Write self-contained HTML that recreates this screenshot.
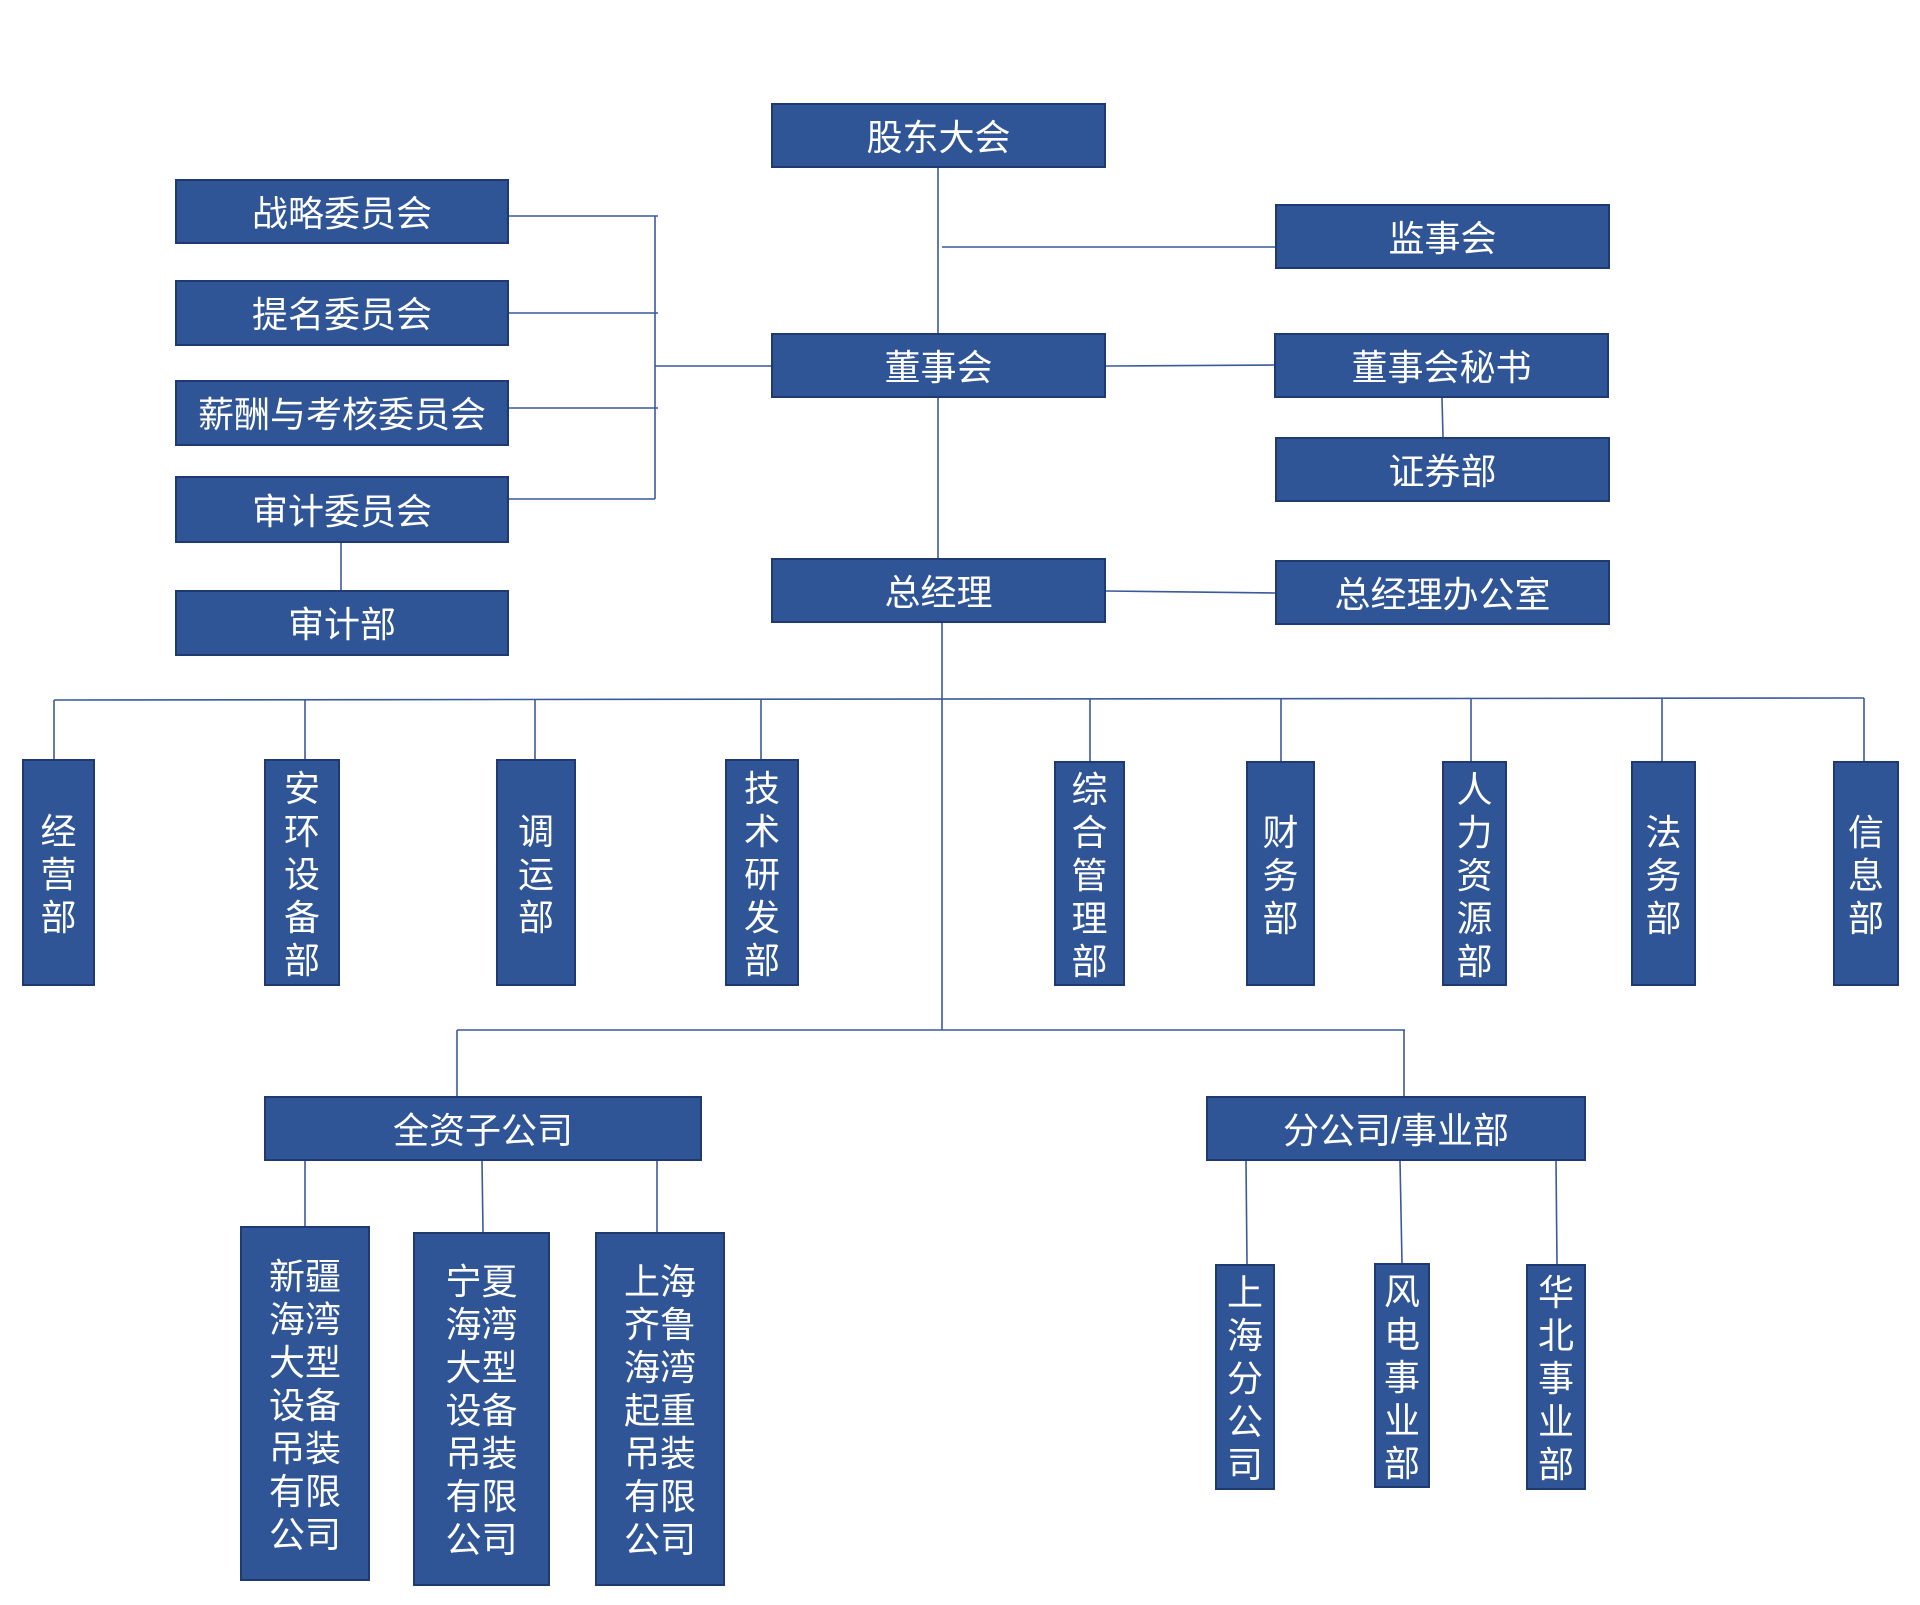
<!DOCTYPE html>
<html><head><meta charset="utf-8"><style>
html,body{margin:0;padding:0;background:#fff;}
body{width:1920px;height:1605px;position:relative;overflow:hidden;font-family:"Liberation Sans","Noto Sans CJK SC",sans-serif;}
.b{position:absolute;box-sizing:border-box;background:#2F5597;border:2px solid #1F3A70;color:#fff;font-size:36px;display:flex;align-items:center;justify-content:center;text-align:center;line-height:43px;white-space:nowrap;padding-top:3px;}
svg{position:absolute;left:0;top:0;}
</style></head><body>
<svg width="1920" height="1605" viewBox="0 0 1920 1605">
<g stroke="#3A5A9C" stroke-width="1.6" fill="none">
<line x1="938" y1="168" x2="938" y2="333"/>
<line x1="938" y1="398" x2="938" y2="558"/>
<line x1="942" y1="247" x2="1275" y2="247"/>
<line x1="509" y1="216" x2="658" y2="216"/>
<line x1="509" y1="313" x2="658" y2="313"/>
<line x1="509" y1="408" x2="658" y2="408"/>
<line x1="509" y1="499" x2="655" y2="499"/>
<line x1="655" y1="216" x2="655" y2="499"/>
<line x1="655" y1="366" x2="771" y2="366"/>
<line x1="341" y1="543" x2="341" y2="590"/>
<line x1="1106" y1="366" x2="1274" y2="365"/>
<line x1="1442" y1="398" x2="1443" y2="437"/>
<line x1="1106" y1="591" x2="1275" y2="593"/>
<line x1="942" y1="623" x2="942" y2="1030"/>
<line x1="54" y1="700" x2="1864" y2="698"/>
<line x1="54" y1="700" x2="54" y2="759"/>
<line x1="305" y1="700" x2="305" y2="759"/>
<line x1="535" y1="700" x2="535" y2="759"/>
<line x1="761" y1="700" x2="761" y2="759"/>
<line x1="1090" y1="699" x2="1090" y2="761"/>
<line x1="1281" y1="699" x2="1281" y2="761"/>
<line x1="1471" y1="699" x2="1471" y2="761"/>
<line x1="1662" y1="698" x2="1662" y2="761"/>
<line x1="1864" y1="698" x2="1864" y2="761"/>
<line x1="457" y1="1030" x2="1405" y2="1030"/>
<line x1="457" y1="1030" x2="457" y2="1096"/>
<line x1="1404" y1="1030" x2="1404" y2="1096"/>
<line x1="305" y1="1161" x2="305" y2="1226"/>
<line x1="482" y1="1161" x2="483" y2="1232"/>
<line x1="657" y1="1161" x2="657" y2="1232"/>
<line x1="1246" y1="1161" x2="1247" y2="1264"/>
<line x1="1400" y1="1161" x2="1402" y2="1263"/>
<line x1="1556" y1="1161" x2="1557" y2="1264"/>
</g>
</svg>

<div class="b" style="left:771px;top:103px;width:335px;height:65px;">股东大会</div>
<div class="b" style="left:175px;top:179px;width:334px;height:65px;">战略委员会</div>
<div class="b" style="left:175px;top:280px;width:334px;height:66px;">提名委员会</div>
<div class="b" style="left:175px;top:380px;width:334px;height:66px;">薪酬与考核委员会</div>
<div class="b" style="left:175px;top:476px;width:334px;height:67px;">审计委员会</div>
<div class="b" style="left:175px;top:590px;width:334px;height:66px;">审计部</div>
<div class="b" style="left:771px;top:333px;width:335px;height:65px;">董事会</div>
<div class="b" style="left:771px;top:558px;width:335px;height:65px;">总经理</div>
<div class="b" style="left:1275px;top:204px;width:335px;height:65px;">监事会</div>
<div class="b" style="left:1274px;top:333px;width:335px;height:65px;">董事会秘书</div>
<div class="b" style="left:1275px;top:437px;width:335px;height:65px;">证券部</div>
<div class="b" style="left:1275px;top:560px;width:335px;height:65px;">总经理办公室</div>

<div class="b" style="left:22px;top:759px;width:73px;height:227px;">经<br>营<br>部</div>
<div class="b" style="left:264px;top:759px;width:76px;height:227px;">安<br>环<br>设<br>备<br>部</div>
<div class="b" style="left:496px;top:759px;width:80px;height:227px;">调<br>运<br>部</div>
<div class="b" style="left:725px;top:759px;width:74px;height:227px;">技<br>术<br>研<br>发<br>部</div>
<div class="b" style="left:1054px;top:761px;width:71px;height:225px;">综<br>合<br>管<br>理<br>部</div>
<div class="b" style="left:1246px;top:761px;width:69px;height:225px;">财<br>务<br>部</div>
<div class="b" style="left:1442px;top:761px;width:65px;height:225px;">人<br>力<br>资<br>源<br>部</div>
<div class="b" style="left:1631px;top:761px;width:65px;height:225px;">法<br>务<br>部</div>
<div class="b" style="left:1833px;top:761px;width:66px;height:225px;">信<br>息<br>部</div>

<div class="b" style="left:264px;top:1096px;width:438px;height:65px;">全资子公司</div>
<div class="b" style="left:1206px;top:1096px;width:380px;height:65px;">分公司/事业部</div>

<div class="b" style="left:240px;top:1226px;width:130px;height:355px;">新疆<br>海湾<br>大型<br>设备<br>吊装<br>有限<br>公司</div>
<div class="b" style="left:413px;top:1232px;width:137px;height:354px;">宁夏<br>海湾<br>大型<br>设备<br>吊装<br>有限<br>公司</div>
<div class="b" style="left:595px;top:1232px;width:130px;height:354px;">上海<br>齐鲁<br>海湾<br>起重<br>吊装<br>有限<br>公司</div>

<div class="b" style="left:1215px;top:1264px;width:60px;height:226px;">上<br>海<br>分<br>公<br>司</div>
<div class="b" style="left:1374px;top:1263px;width:56px;height:225px;">风<br>电<br>事<br>业<br>部</div>
<div class="b" style="left:1526px;top:1264px;width:60px;height:226px;">华<br>北<br>事<br>业<br>部</div>
</body></html>
